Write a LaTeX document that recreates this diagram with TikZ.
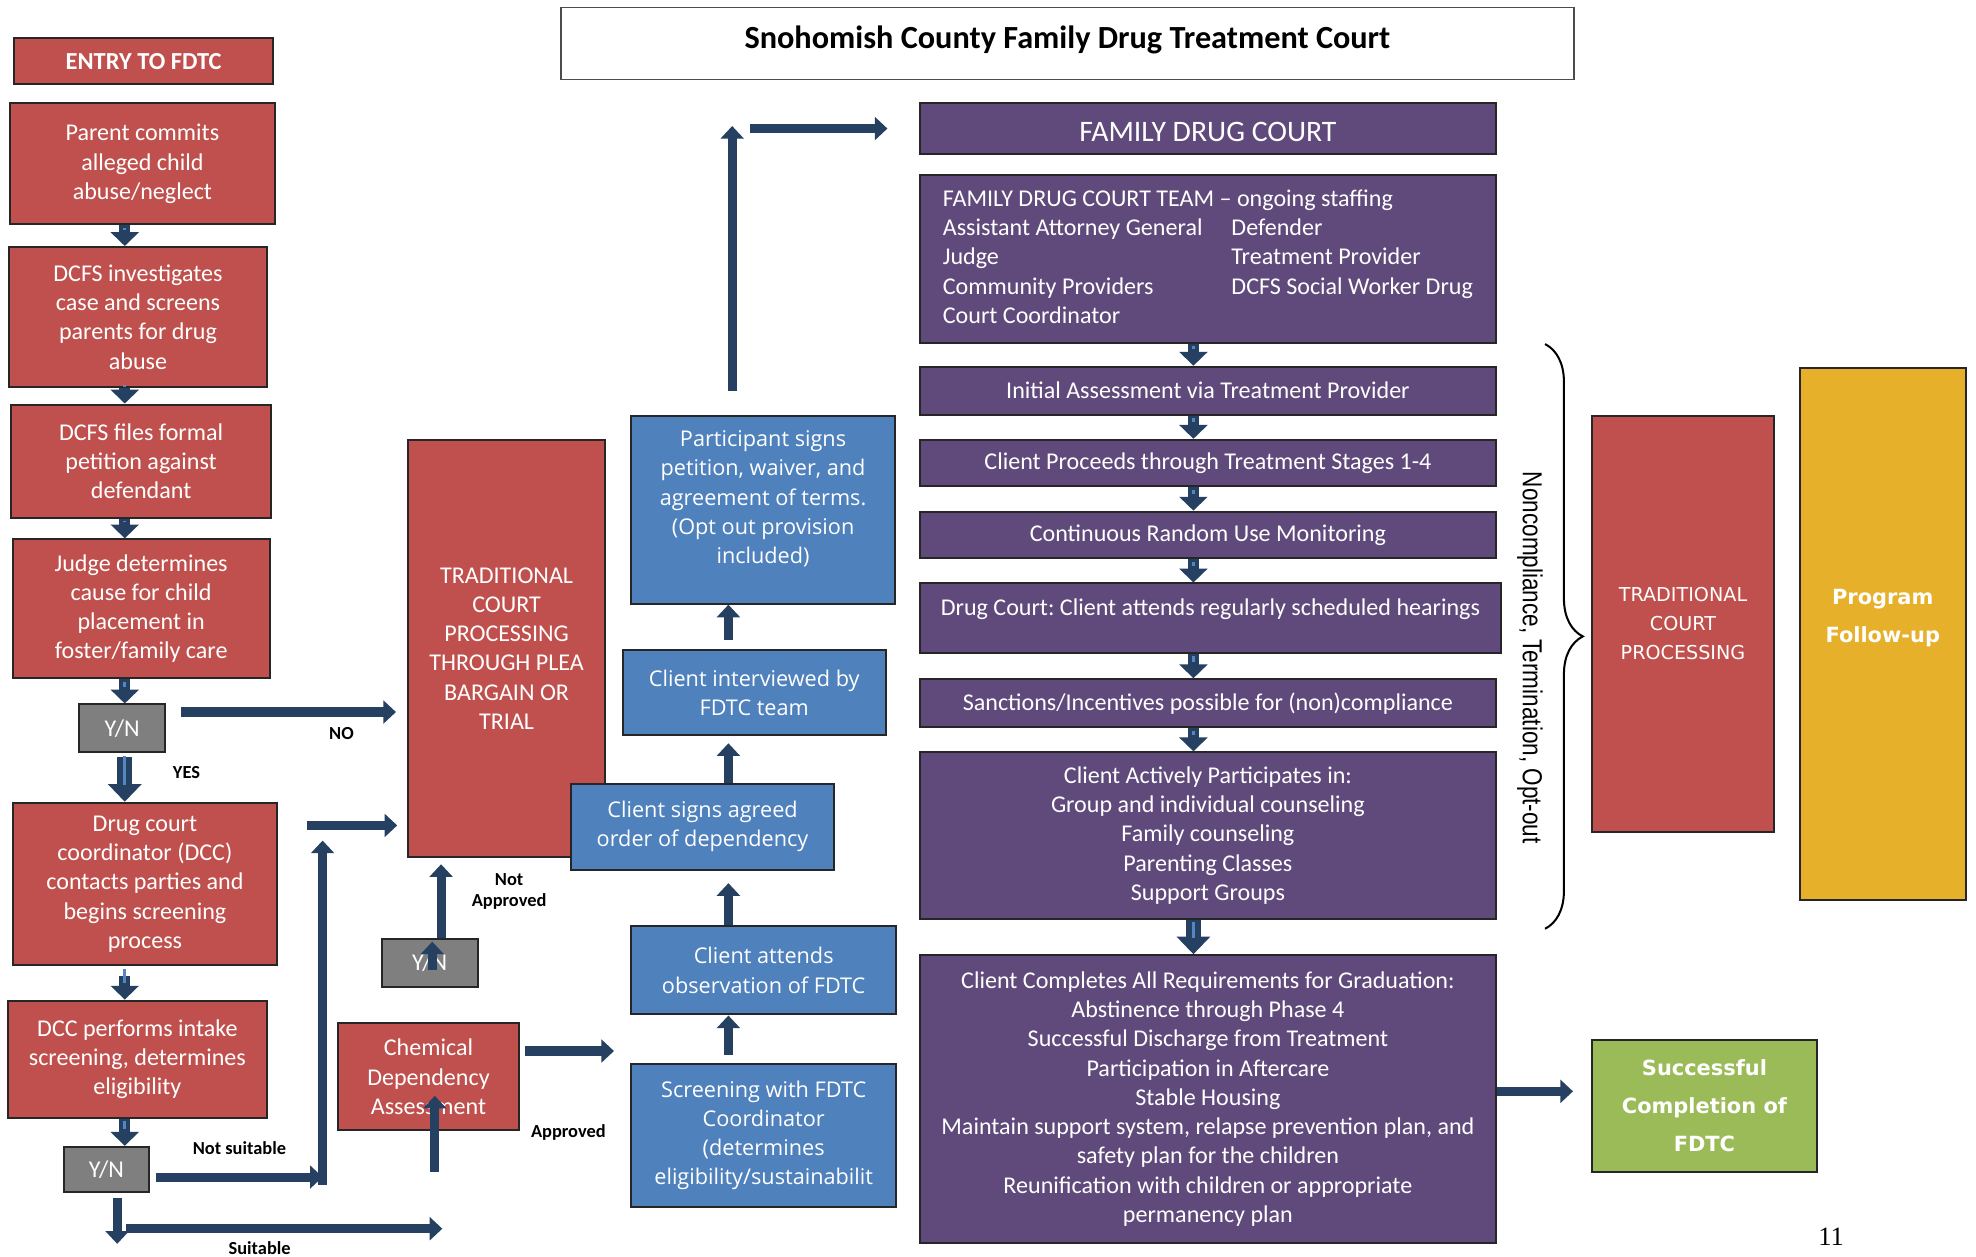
\documentclass[tikz,border=0pt]{standalone}
\usepackage{fontspec}
\setmainfont{Carlito}
\newfontfamily\bluefont{Open Sans}
\newfontfamily\widefont{DejaVu Sans}
\newfontfamily\narrowfont[FakeStretch=0.82]{Liberation Sans}
\newfontfamily\pagefont{Liberation Serif}
\usepackage{tikz}
\usetikzlibrary{arrows.meta, positioning, decorations.pathreplacing, calc}
\frenchspacing

\definecolor{boxred}{RGB}{192,80,77}
\definecolor{boxblue}{RGB}{79,129,189}
\definecolor{boxpurple}{RGB}{96,74,123}
\definecolor{yngrey}{RGB}{127,127,127}
\definecolor{boxgold}{RGB}{230,176,42}
\definecolor{boxgreen}{RGB}{155,187,89}
\definecolor{navy}{RGB}{38,64,97}
\definecolor{stripe}{RGB}{84,134,196}

\newcommand{\bodyfont}{\fontsize{9.55}{11.6}\selectfont}

\begin{document}
\begin{tikzpicture}[
    x=0.5pt, y=-0.5pt,
    box/.style={rectangle, draw=black!85, line width=0.8pt, text=white, align=center, inner sep=2pt},
    redbox/.style={box, fill=boxred, font=\bodyfont},
    bluebox/.style={box, fill=boxblue, font=\bluefont\fontsize{8.6}{11.6}\selectfont},
    purplebox/.style={box, fill=boxpurple, font=\bodyfont},
    ynbox/.style={box, fill=yngrey, font=\bodyfont},
    flow/.style={draw=navy, line width=3.6pt, -{Triangle[width=9pt,length=5pt]}},
    fat/.style={draw=navy, line width=4.5pt, -{Triangle[width=11pt,length=5.5pt]},
        postaction={draw=stripe, line width=1.2pt, shorten <=1pt, shorten >=6.5pt, -}},
    lbl/.style={font=\bfseries\fontsize{7.3}{8.5}\selectfont, align=center, inner sep=0pt}
]
\path[use as bounding box, fill=white] (0,0) rectangle (1568,997);

% Title
\node[draw=black!70, line width=0.6pt, fill=white, minimum width=402pt, minimum height=28.5pt, text depth=4.8pt, font=\bfseries\fontsize{12.8}{15}\selectfont] (title) at (847,34.5) {Snohomish County Family Drug Treatment Court};

% Entry column
\node[redbox, minimum width=103pt, minimum height=18.5pt, font=\bfseries\fontsize{9.7}{11}\selectfont] (entry) at (114,48.5) {ENTRY TO FDTC};
\node[redbox, minimum width=105pt, minimum height=48pt] (parent) at (113,130) {Parent commits\\alleged child\\abuse/neglect};
\node[redbox, minimum width=102.5pt, minimum height=55.5pt] (dcfsinv) at (109.5,251.5) {DCFS investigates\\case and screens\\parents for drug\\abuse};
\node[redbox, minimum width=103pt, minimum height=45pt] (dcfsfile) at (112,366) {DCFS files formal\\petition against\\defendant};
\node[redbox, minimum width=102pt, minimum height=55pt] (judge) at (112,483) {Judge determines\\cause for child\\placement in\\foster/family care};
\node[ynbox, minimum width=34pt, minimum height=19pt] (yn1) at (97,578) {Y/N};
\node[redbox, minimum width=105pt, minimum height=64.5pt] (dcc) at (115,701.5) {Drug court\\coordinator (DCC)\\contacts parties and\\begins screening\\process};
\node[redbox, minimum width=103pt, minimum height=46.5pt] (intake) at (109,840.5) {DCC performs intake\\screening, determines\\eligibility};
\node[ynbox, minimum width=33.5pt, minimum height=18pt] (yn2) at (84.5,928) {Y/N};

% Traditional court and assessment
\node[redbox, minimum width=78pt, minimum height=165.5pt] (trad) at (402,514.5) {TRADITIONAL\\COURT\\PROCESSING\\THROUGH PLEA\\BARGAIN OR\\TRIAL};
\node[ynbox, minimum width=38pt, minimum height=19pt] (yn3) at (341,764) {Y/N};
\node[redbox, minimum width=72pt, minimum height=42.5pt] (chem) at (340,854.5) {Chemical\\Dependency\\Assessment};

% Screening column
\node[bluebox, minimum width=104.5pt, minimum height=74.5pt, text depth=10pt] (signup) at (605.5,404.5) {Participant signs\\petition, waiver, and\\agreement of terms.\\(Opt out provision\\included)};
\node[bluebox, minimum width=104.5pt, minimum height=33.5pt] (interview) at (598.5,549.5) {Client interviewed by\\FDTC team};
\node[bluebox, minimum width=104.5pt, minimum height=34pt] (agree) at (557.5,656) {Client signs agreed\\order of dependency};
\node[bluebox, minimum width=105pt, minimum height=35pt] (observe) at (606,770) {Client attends\\observation of FDTC};
\node[bluebox, minimum width=105pt, minimum height=57pt] (screen) at (606,901) {Screening with FDTC\\Coordinator\\(determines\\eligibility/sustainabilit};

% Family drug court
\node[purplebox, minimum width=228.5pt, minimum height=20pt, text height=10.5pt, font=\fontsize{11.8}{14}\selectfont] (fdc) at (958.5,102) {FAMILY DRUG COURT};
\node[purplebox, minimum width=228.5pt, minimum height=66.5pt] (team) at (958.5,205.5) {\begin{tabular}{@{}p{114.5pt}@{}l@{}}
\multicolumn{2}{@{}l@{}}{FAMILY DRUG COURT TEAM – ongoing staffing}\\
Assistant Attorney General & Defender\\
Judge & Treatment Provider\\
Community Providers & DCFS Social Worker Drug\\
Court Coordinator & \end{tabular}};
\node[purplebox, minimum width=228.5pt, minimum height=19pt] (initial) at (958.5,310) {Initial Assessment via Treatment Provider};
\node[purplebox, minimum width=228.5pt, minimum height=18.5pt] (stages) at (958.5,367.5) {Client Proceeds through Treatment Stages 1-4};
\node[purplebox, minimum width=228.5pt, minimum height=18.5pt] (monitor) at (958.5,424.5) {Continuous Random Use Monitoring};
\node[purplebox, minimum width=230.5pt, minimum height=27.5pt, text depth=8.5pt] (hearing) at (960.5,490.5) {Drug Court: Client attends regularly scheduled hearings};
\node[purplebox, minimum width=228.5pt, minimum height=19pt] (sanction) at (958.5,558) {Sanctions/Incentives possible for (non)compliance};
\node[purplebox, minimum width=228.5pt, minimum height=66pt] (active) at (958.5,663) {Client Actively Participates in:\\Group and individual counseling\\Family counseling\\Parenting Classes\\Support Groups};
\node[purplebox, minimum width=228.5pt, minimum height=114pt] (graduate) at (958.5,872) {Client Completes All Requirements for Graduation:\\Abstinence through Phase 4\\Successful Discharge from Treatment\\Participation in Aftercare\\Stable Housing\\Maintain support system, relapse prevention plan, and\\safety plan for the children\\Reunification with children or appropriate\\permanency plan};

% Outcomes
\node[redbox, minimum width=72.5pt, minimum height=165pt, font=\widefont\fontsize{7.6}{11.5}\selectfont] (tradright) at (1335.5,495) {TRADITIONAL\\COURT\\PROCESSING};
\node[box, fill=boxgold, minimum width=66pt, minimum height=211pt, text depth=14pt, font=\widefont\bfseries\fontsize{8.3}{15}\selectfont] (followup) at (1494,503) {Program\\Follow-up};
\node[box, fill=boxgreen, minimum width=89.5pt, minimum height=52.5pt, font=\widefont\bfseries\fontsize{8.3}{15}\selectfont] (success) at (1352.5,877.5) {Successful\\Completion of\\FDTC};
\node[font=\narrowfont\fontsize{10.9}{12}\selectfont, rotate=-90] (outcome) at (1214,522) {Noncompliance, Termination, Opt-out};
\node[font=\pagefont\fontsize{10.5}{12}\selectfont] (pagenum) at (1453,981) {11};

% Labels
\node[lbl] (nolbl) at (271,582) {NO};
\node[lbl] (yeslbl) at (148,613) {YES};
\node[lbl] (unfitlbl) at (190,911) {Not suitable};
\node[lbl] (fitlbl) at (206,990) {Suitable};
\node[lbl] (rejectlbl) at (404,707.5) {Not\\Approved};
\node[lbl] (approvelbl) at (451,899) {Approved};

% Helper points
\coordinate (spine) at (99,0);
\coordinate (bluecol) at (578,0);
\coordinate (purplecol) at (947,0);
\coordinate (riser) at (256,940);
\coordinate (risertop) at (256,667);
\coordinate (gate) at (244,655);
\coordinate (drop) at (93,987);
\coordinate (bend) at (100,975);
\coordinate (chemup) at (345,930);
\coordinate (crest) at (581,100);

% Entry arrows
\draw[fat] (parent.south -| spine) -- (dcfsinv.north -| spine);
\draw[fat] (dcfsinv.south -| spine) -- (dcfsfile.north -| spine);
\draw[fat] (dcfsfile.south -| spine) -- (judge.north -| spine);
\draw[fat] (judge.south -| spine) -- (yn1.north -| spine);
\draw[fat, line width=6pt, -{Triangle[width=13pt,length=7pt]}, shorten <=1.5pt] (yn1.south -| spine) -- (dcc.north -| spine);
\draw[fat, shorten <=4pt] (dcc.south -| spine) -- (intake.north -| spine);
\draw[fat] (intake.south -| spine) -- (yn2.north -| spine);

% Decisions
\draw[flow, shorten <=6pt, shorten >=4.5pt] ([yshift=6.5pt]yn1.east) -- ([yshift=6.5pt]yn1.east -| trad.west);
\draw[flow, shorten <=2.5pt] ([yshift=-3pt]yn2.east) -- ([yshift=-3pt]yn2.east -| riser);
\draw[flow] (riser) -- (risertop);
\draw[flow, shorten >=4pt] (gate) -- (gate -| trad.west);
\draw[flow, shorten <=2pt] (yn2.south -| drop) -- (drop);
\draw[flow] (bend) -- ([xshift=3pt]bend -| chemup);
\draw[flow, shorten >=7.5pt] (chemup) -- (chemup |- chem.center);
\draw[flow, shorten <=2pt, shorten >=6.5pt] ([yshift=10.25pt]chem.east) -- ([yshift=10.25pt]chem.east -| screen.west);
\draw[flow, shorten >=2.5pt] ([xshift=4.5pt]yn3.north) -- ([xshift=4.5pt]yn3.north |- trad.south);
\draw[flow] ([xshift=1pt,yshift=-3pt]yn3.center) -- ([xshift=1pt,yshift=-1.5pt]yn3.north);

% Screening arrows
\draw[flow, shorten <=3pt] (screen.north -| bluecol) -- (observe.south -| bluecol);
\draw[flow, shorten >=5pt] (observe.north -| bluecol) -- (agree.south -| bluecol);
\draw[flow, shorten >=3pt] (agree.north -| bluecol) -- (interview.south -| bluecol);
\draw[flow, shorten <=3.5pt] (interview.north -| bluecol) -- (signup.south -| bluecol);
\draw[flow, shorten <=9.5pt] (crest |- signup.north) -- (crest);
\draw[flow, shorten <=7pt, shorten >=12.5pt] (crest |- fdc.west) -- (fdc.west);

% Drug court arrows
\draw[fat] (team.south -| purplecol) -- (initial.north -| purplecol);
\draw[fat] (initial.south -| purplecol) -- (stages.north -| purplecol);
\draw[fat] (stages.south -| purplecol) -- (monitor.north -| purplecol);
\draw[fat] (monitor.south -| purplecol) -- (hearing.north -| purplecol);
\draw[fat] (hearing.south -| purplecol) -- (sanction.north -| purplecol);
\draw[fat] (sanction.south -| purplecol) -- (active.north -| purplecol);
\draw[fat, line width=6pt, -{Triangle[width=13pt,length=7pt]}] (active.south -| purplecol) -- (graduate.north -| purplecol);
\draw[flow, shorten >=7pt] ([yshift=3pt]graduate.east) -- ([yshift=3pt]graduate.east -| success.west);

% Exit brace
\draw[line width=0.8pt, decorate, decoration={brace, amplitude=15pt}] (1226,273) -- (1226,737);

\end{tikzpicture}
\end{document}
